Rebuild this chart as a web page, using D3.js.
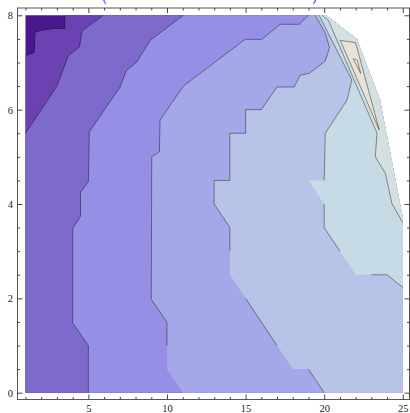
<!DOCTYPE html>
<meta charset="utf-8">
<style>
    body {
        margin: 0;
        overflow: hidden;
        background: #fff;
    }

    .contours path.edge {
        fill: none;
        stroke: #000;
        stroke-opacity: 0.45;
        stroke-width: 0.9;
    }

</style>
<svg id="canvas" width="410" height="413"></svg>
<script src="https://d3js.org/d3.v7.min.js"></script>
<script>

    // outline of the data region, counter-clockwise
    var outline = [[1, 8], [1, 0], [25, 0], [25, 3.7], [23.55, 6.2], [22.08, 7.49], [20.1, 8]];

    // contour lines, each from the top edge to another edge, higher values on their left
    var c1 = [[3.5, 8], [3.5, 7.72], [2.77, 7.72], [1.88, 7.67], [1.6, 7.64], [1.56, 7.21], [1, 7.15]];
    var c2 = [[5.95, 8], [4.6, 7.67], [4.43, 7.33], [3.73, 7.15], [3.0, 6.5], [1, 5.5]];
    var c3 = [[11.04, 8], [8.93, 7.47], [8.08, 7.01], [7.4, 6.82], [7.02, 6.48], [5.06, 5.53], [5, 4.47],
              [4.5, 4.25], [4.5, 3.74], [4, 3.48], [4, 1.48], [5, 1], [5, 0]];
    var c4 = [[19, 8], [18.41, 7.81], [17.2, 7.81], [16.03, 7.49], [14.97, 7.49], [11.04, 6.5], [9.56, 5.78],
              [9.52, 5.11], [9.03, 5], [9, 1.98], [10, 1.49], [10, 1.0], [10, 0.5], [11, 0]];
    var c5 = [[19.43, 8], [20.07, 7.62], [20.34, 7.32], [20.07, 7.03], [19.05, 6.77], [18.47, 6.73], [18.09, 6.48],
              [17, 6.48], [16, 6], [15, 6], [15, 5.5], [14, 5.5], [14, 4.5], [13, 4.5], [13, 4], [14, 3.5],
              [14, 3], [14, 2.5], [15, 2], [17, 1], [18, 0.5], [19, 0.5], [20, 0]];
    var c6 = [[19.68, 8], [21.76, 6.63], [21.45, 6.2], [20.07, 5.5], [20, 4.5], [19, 4.5], [20, 4], [20, 3.5],
              [21, 3], [22, 2.5], [23, 2.5], [24, 2.5], [25, 2.23]];
    var c7 = [[19.87, 8], [20.27, 7.89], [23.36, 5.5], [23.25, 5.0], [23.89, 4.65], [24.31, 4.01], [25, 3.6]];

    // closed contours near the edge
    var c8 = [[21.02, 7.47], [22.0, 7.42], [23.5, 5.57]];
    var c9 = [[21.85, 7.08], [22.1, 7.05], [22.32, 6.77]];

    var openLines = [c1, c2, c3, c4, c5, c6, c7];
    var closedLines = [c8, c9];

    // segments that Mathematica left without an edge line
    var hidden = [[], [], [], [11, 12], [16, 17, 19, 20], [4, 5, 8, 9], []];

    var colors = ["#4b178f", "#6a42b2", "#7e69cc", "#9590e6", "#a5a8e8", "#b7c4e8",
                  "#c7dbe7", "#d4dfdf", "#e6e2d8", "#eee9df"];

    var xTicks = [5, 10, 15, 20, 25],
        xMinor = [1, 2, 3, 4, 6, 7, 8, 9, 11, 12, 13, 14, 16, 17, 18, 19, 21, 22, 23, 24];
    var yTicks = [0, 2, 4, 6, 8],
        yMinor = [0.5, 1, 1.5, 2.5, 3, 3.5, 4.5, 5, 5.5, 6.5, 7, 7.5];

    var titleText = "(mean number of iterations in each bin)";

    var svg = d3.select("svg");

    var frame = {left: 17.5, right: 409.5, top: 8, bottom: 399.5};

    var x = d3.scaleLinear().domain([1, 25]).range([25.5, 402.8]),
        y = d3.scaleLinear().domain([0, 8]).range([392.7, 15.3]);

    var line = d3.line().x(function(d) { return x(d[0]); }).y(function(d) { return y(d[1]); });

    // which outline edge a point sits on, and how far along it
    function locate(p) {
        var best = {i: 0, t: 0, dist: Infinity};
        for (let i = 0; i < outline.length; i++) {
            let a = outline[i], b = outline[(i + 1) % outline.length];
            let dx = b[0] - a[0], dy = b[1] - a[1];
            let t = ((p[0] - a[0]) * dx + (p[1] - a[1]) * dy) / (dx * dx + dy * dy);
            t = Math.max(0, Math.min(1, t));
            let ex = a[0] + t * dx - p[0], ey = a[1] + t * dy - p[1];
            let dist = ex * ex + ey * ey;
            if (dist < best.dist) best = {i: i, t: t, dist: dist};
        }
        return best;
    }

    // polygon of the area above a contour: the line, then the outline back to its start
    function region(pts) {
        var s = locate(pts[0]), e = locate(pts[pts.length - 1]);
        var poly = pts.slice();
        var i = e.i;
        if (i === s.i && s.t >= e.t) return poly;
        do {
            i = (i + 1) % outline.length;
            poly.push(outline[i]);
        } while (i !== s.i);
        return poly;
    }

    var plot = svg.append("g").attr("class", "contours");

    plot.append("path")
        .attr("d", line(outline) + "Z")
        .attr("fill", colors[0]);

    openLines.forEach(function(pts, k) {
        plot.append("path")
            .attr("d", line(region(pts)) + "Z")
            .attr("fill", colors[k + 1]);
    });

    closedLines.forEach(function(pts, k) {
        plot.append("path")
            .attr("d", line(pts) + "Z")
            .attr("fill", colors[openLines.length + 1 + k]);
    });

    // edge lines, split where segments are hidden
    openLines.forEach(function(pts, k) {
        var run = [pts[0]];
        for (let j = 0; j < pts.length - 1; j++) {
            if (hidden[k].indexOf(j) !== -1) {
                if (run.length > 1) plot.append("path").attr("class", "edge").attr("d", line(run));
                run = [pts[j + 1]];
            } else {
                run.push(pts[j + 1]);
            }
        }
        if (run.length > 1) plot.append("path").attr("class", "edge").attr("d", line(run));
    });

    closedLines.forEach(function(pts) {
        plot.append("path").attr("class", "edge").attr("d", line(pts) + "Z");
    });

    // frame
    svg.append("rect")
        .attr("x", frame.left)
        .attr("y", frame.top)
        .attr("width", frame.right - frame.left)
        .attr("height", frame.bottom - frame.top)
        .attr("fill", "none")
        .attr("stroke", "#555")
        .attr("stroke-width", 1);

    function frameAxis(makeAxis, pos, major, minor, labels) {
        var g = svg.append("g").attr("transform", pos);
        g.call(makeAxis().tickValues(major).tickSizeInner(-5).tickSizeOuter(0).tickPadding(labels ? 5 : 0)
                   .tickFormat(labels ? d3.format("d") : ""));
        g.append("g").call(makeAxis().tickValues(minor).tickSizeInner(-2.5).tickSizeOuter(0).tickFormat(""));
        g.selectAll(".domain").remove();
        g.attr("color", "#444")
         .attr("font-family", "'Liberation Serif', 'DejaVu Serif', serif")
         .attr("font-size", 10.5);
        g.selectAll("text").attr("fill", "#222");
        return g;
    }

    frameAxis(function() { return d3.axisBottom(x); }, "translate(0," + frame.bottom + ")", xTicks, xMinor, true);
    frameAxis(function() { return d3.axisTop(x); }, "translate(0," + frame.top + ")", xTicks, xMinor, false);
    frameAxis(function() { return d3.axisLeft(y); }, "translate(" + frame.left + ",0)", yTicks, yMinor, true)
        .selectAll("text").attr("x", -4.5);
    frameAxis(function() { return d3.axisRight(y); }, "translate(" + frame.right + ",0)", yTicks, yMinor, false);

    // title, sitting above the picture so only its brackets hang into view
    svg.append("text")
        .attr("x", 102)
        .attr("y", -0.5)
        .attr("textLength", 215)
        .attr("lengthAdjust", "spacingAndGlyphs")
        .attr("font-family", "'Liberation Serif', serif")
        .attr("font-size", 22)
        .attr("fill", "#1a1aff")
        .text(titleText);

</script>
